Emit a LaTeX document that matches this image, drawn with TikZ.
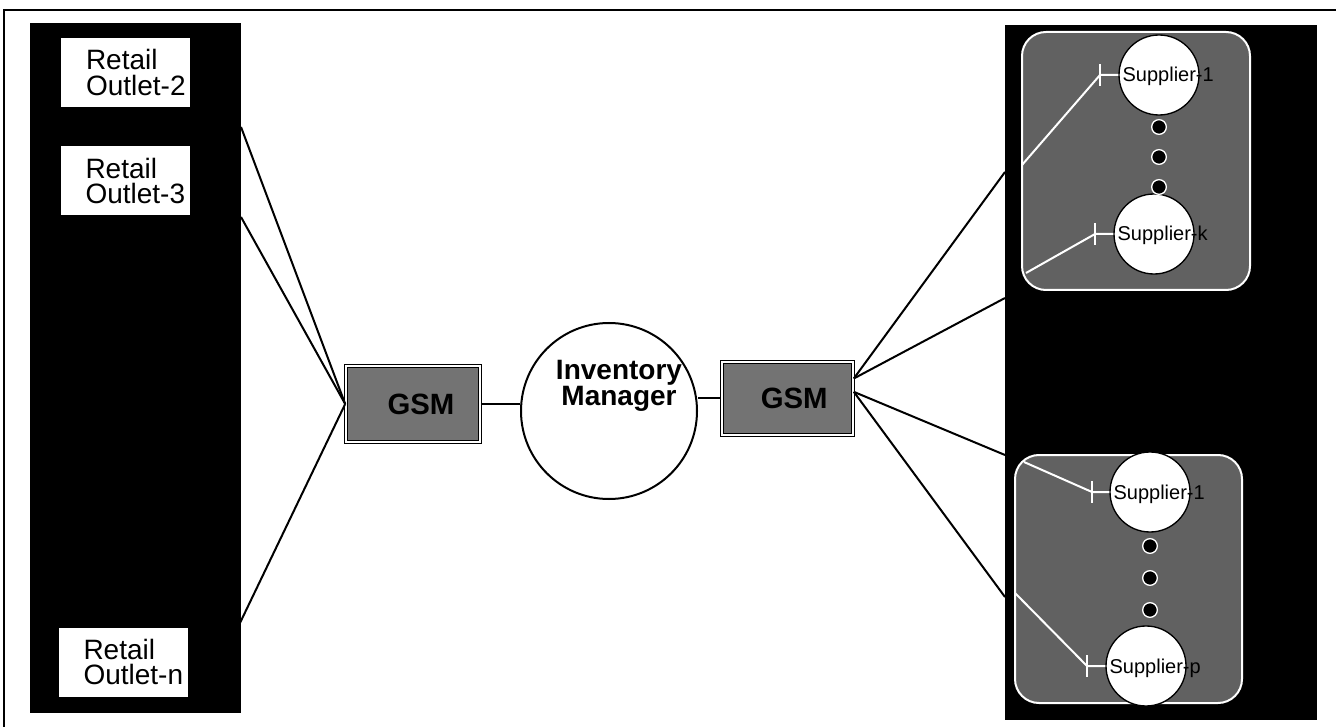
\documentclass[tikz,border=0pt]{standalone}
\usepackage{fontspec}
\setmainfont{Liberation Sans}
\begin{document}
\begin{tikzpicture}[x=0.75pt,y=-0.75pt,
  block/.style={fill=black, draw=none, inner sep=0pt},
  outlet/.style={fill=white, draw=none, inner xsep=18.75pt, inner ysep=0pt, text width=59.25pt,
    minimum height=51.75pt, align=left, font=\fontsize{21}{19}\selectfont},
  gsm/.style={draw=black, line width=1.2pt, double=white, double distance=1.2pt, fill=black!55,
    inner sep=0pt, font=\bfseries\fontsize{22}{22}\selectfont},
  grp/.style={fill=black!62, draw=white, line width=1.5pt, rounded corners=18pt, inner sep=0pt},
  supplier/.style={circle, fill=white, draw=black, line width=1pt, minimum size=60pt, inner sep=0pt},
  stext/.style={anchor=base west, inner sep=0pt, font=\fontsize{15}{15}\selectfont},
  dot/.style={circle, fill=black, draw=white, line width=1pt, minimum size=11pt, inner sep=0pt},
  conn/.style={line width=1.5pt, black},
  plug/.style={line width=1.5pt, white}]
\useasboundingbox (0,0) rectangle (1336,727);
% frame
\draw[line width=1.5pt] (4,727) -- (4,10) -- (1336,10);
% left block with outlets
\node[block, minimum width=158.25pt, minimum height=517.5pt] (lblock) at (135.5,368) {};
\node[outlet] (o2) at (125.5,72.5) {Retail\\\mbox{Outlet-2}};
\node[outlet] (o3) at (125,181) {Retail\\\mbox{Outlet-3}};
\node[outlet] (on) at (123,662) {Retail\\\mbox{Outlet-n}};
% GSM boxes and inventory manager
\node[gsm, minimum width=100.5pt, minimum height=57pt] (gsm1) at (413,404) {\hspace*{12pt}GSM};
\node[circle, draw=black, line width=1.5pt, minimum size=132pt, inner sep=0pt] (im) at (609,411) {};
\node[font=\bfseries\fontsize{21}{18}\selectfont, align=center, inner sep=0pt] (imtext) at (619,386) {Inventory\\Manager};
\node[gsm, minimum width=98.25pt, minimum height=54.75pt] (gsm2) at (787.5,398.5) {\hspace*{10pt}GSM};
% right block
\node[block, minimum width=234pt, minimum height=521.25pt] (rblock) at (1161,372.5) {};
\node[grp, minimum width=171pt, minimum height=193.5pt] (grpA) at (1136,161) {};
\node[grp, minimum width=170.25pt, minimum height=186pt] (grpB) at (1128.5,579) {};
% suppliers group A
\node[supplier] (sa1) at (1159,75) {};
\node[supplier] (sak) at (1154,234) {};
\node[stext] (ta1) at ([xshift=-27.5pt,yshift=-5.25pt]sa1.center) {Supplier-1};
\node[stext] (tak) at ([xshift=-27.5pt,yshift=-5.25pt]sak.center) {Supplier-k};
\node[dot] (da1) at (1159,127) {};
\node[dot] (da2) at (1159,157) {};
\node[dot] (da3) at (1159,187) {};
% suppliers group B
\node[supplier] (sb1) at (1150,492) {};
\node[supplier] (sbp) at (1146,666) {};
\node[stext] (tb1) at ([xshift=-27.5pt,yshift=-5.25pt]sb1.center) {Supplier-1};
\node[stext] (tbp) at ([xshift=-27.5pt,yshift=-5.25pt]sbp.center) {Supplier-p};
\node[dot] (db1) at (1150,546) {};
\node[dot] (db2) at (1150,578) {};
\node[dot] (db3) at (1150,610) {};
% plug connectors inside groups
\coordinate (ea1) at (1022,165);  \coordinate (pa1) at (1100,75);
\coordinate (eak) at (1026,273);  \coordinate (pak) at (1095,234);
\coordinate (eb1) at (1024,462);  \coordinate (pb1) at (1092,492);
\coordinate (ebp) at (1015,593);  \coordinate (pbp) at (1087,666);
\draw[plug] (ea1) -- (pa1) -- (sa1.west);
\draw[plug] ([yshift=8pt]pa1) -- ([yshift=-8pt]pa1);
\draw[plug] (eak) -- (pak) -- (sak.west);
\draw[plug] ([yshift=8pt]pak) -- ([yshift=-8pt]pak);
\draw[plug] (eb1) -- (pb1) -- (sb1.west);
\draw[plug] ([yshift=8pt]pb1) -- ([yshift=-8pt]pb1);
\draw[plug] (ebp) -- (pbp) -- (sbp.west);
\draw[plug] ([yshift=8pt]pbp) -- ([yshift=-8pt]pbp);
% connectors
\coordinate (l1) at (241,127);
\coordinate (l2) at (241,217);
\coordinate (l3) at (239,625);
\draw[conn] (l1) -- (gsm1.west);
\draw[conn] (l2) -- (gsm1.west);
\draw[conn] (l3) -- (gsm1.west);
\draw[conn] (gsm1.east) -- (im.west |- gsm1.east);
\draw[conn] (im.east |- gsm2.west) -- (gsm2.west);
\coordinate (r1) at (1005,172);
\coordinate (r2) at (1005,298);
\coordinate (r3) at (1005,455);
\coordinate (r4) at (1005,597);
\coordinate (g2a) at ([yshift=15pt]gsm2.east);
\coordinate (g2b) at ([yshift=5pt]gsm2.east);
\draw[conn] (g2a) -- (r1);
\draw[conn] (g2a) -- (r2);
\draw[conn] (g2b) -- (r3);
\draw[conn] (g2b) -- (r4);
\end{tikzpicture}
\end{document}
